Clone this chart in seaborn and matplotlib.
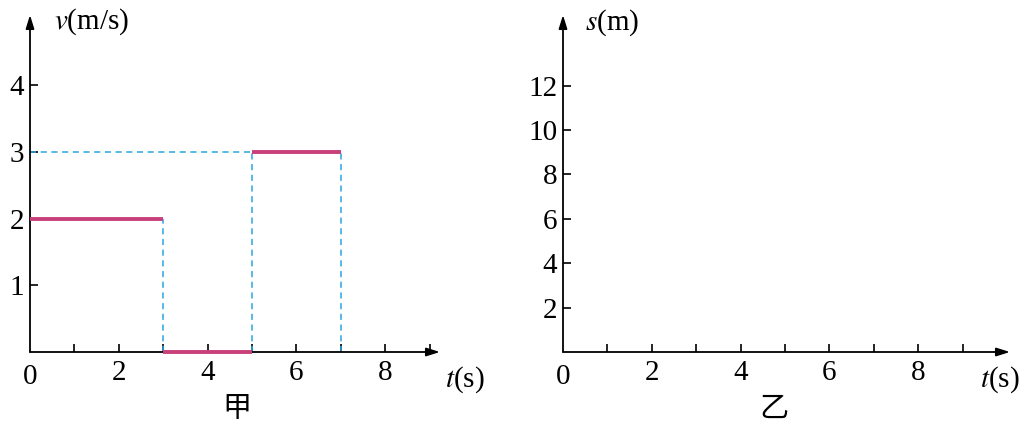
import matplotlib
matplotlib.use("Agg")
import matplotlib.pyplot as plt
import seaborn as sns

sns.set_style("white")
plt.rcParams['font.family'] = ['Liberation Serif', 'Noto Sans CJK SC', 'DejaVu Sans']
plt.rcParams['mathtext.fontset'] = 'stix'
plt.rcParams['text.color'] = 'black'
plt.rcParams['xtick.color'] = 'black'
plt.rcParams['ytick.color'] = 'black'

seg_t_start = [0, 3, 5]
seg_t_end = [3, 5, 7]
seg_v = [2, 0, 3]
left_yticks = [1, 2, 3, 4]
right_yticks = [2, 4, 6, 8, 10, 12]
xtick_labels = [2, 4, 6, 8]

W, H = 1029, 426
fig = plt.figure(figsize=(W/100, H/100), dpi=100)
pink = '#c8407a'
cyan = '#2aa6e0'
fs = 21

def make_ax(x0, xpx, ypx, ux, uy):
    ax = fig.add_axes([x0/W, (H-352)/H, xpx/W, ypx/H])
    xmax, ymax = xpx/ux, ypx/uy
    ax.set_xlim(0, xmax); ax.set_ylim(0, ymax)
    for s in ax.spines.values(): s.set_visible(False)
    ax.annotate('', xy=(xmax, 0), xytext=(0, 0), annotation_clip=False,
                arrowprops=dict(arrowstyle='-|>,head_length=0.8,head_width=0.25', color='black', lw=1.3, shrinkA=0, shrinkB=0))
    ax.annotate('', xy=(0, ymax), xytext=(0, 0), annotation_clip=False,
                arrowprops=dict(arrowstyle='-|>,head_length=0.8,head_width=0.25', color='black', lw=1.3, shrinkA=0, shrinkB=0))
    ax.set_xticks(range(1, 10))
    ax.set_xticklabels(['' if i not in xtick_labels else str(i) for i in range(1, 10)], fontsize=fs, color='black')
    ax.tick_params(axis='x', direction='in', length=6, width=1.2, pad=6, bottom=True, colors='black')
    ax.tick_params(axis='y', direction='in', length=6, width=1.2, pad=4, left=True, labelsize=fs, colors='black')
    ax.text(0, -0.035*ymax, '0', ha='center', va='top', fontsize=fs, color='black', transform=ax.transData)
    return ax, xmax, ymax

# Left panel
ax1, xm1, ym1 = make_ax(30, 410, 337, 44.4, 66.7)
ax1.set_yticks(left_yticks)
ax1.set_yticklabels([str(v) for v in left_yticks])
for a, b, v in zip(seg_t_start, seg_t_end, seg_v):
    ax1.plot([a, b], [v, v], color=pink, lw=2.8, solid_capstyle='butt', zorder=5, clip_on=False)
dash = dict(color=cyan, lw=1.1, ls=(0, (4, 3)), zorder=2)
ax1.plot([3, 3], [0, 2], **dash)
ax1.plot([0, 5], [3, 3], **dash)
ax1.plot([5, 5], [0, 3], **dash)
ax1.plot([7, 7], [0, 3], **dash)
ax1.text(0.55, 4.95, '$v$(m/s)', fontsize=fs, va='center', ha='left')
ax1.text(9.35, -0.42, '$t$(s)', fontsize=fs, va='center', ha='left')
ax1.text(4.65, -0.85, '甲', fontsize=fs, va='center', ha='center', family=['Noto Sans CJK SC'])

# Right panel
ax2, xm2, ym2 = make_ax(563, 447, 337, 44.4, 22.2)
ax2.set_yticks(right_yticks)
ax2.set_yticklabels([str(v) for v in right_yticks])
ax2.text(0.5, 14.85, '$s$(m)', fontsize=fs, va='center', ha='left')
ax2.text(9.4, -1.25, '$t$(s)', fontsize=fs, va='center', ha='left')
ax2.text(4.75, -2.55, '乙', fontsize=fs, va='center', ha='center', family=['Noto Sans CJK SC'])

fig.savefig('out.png', dpi=100)
